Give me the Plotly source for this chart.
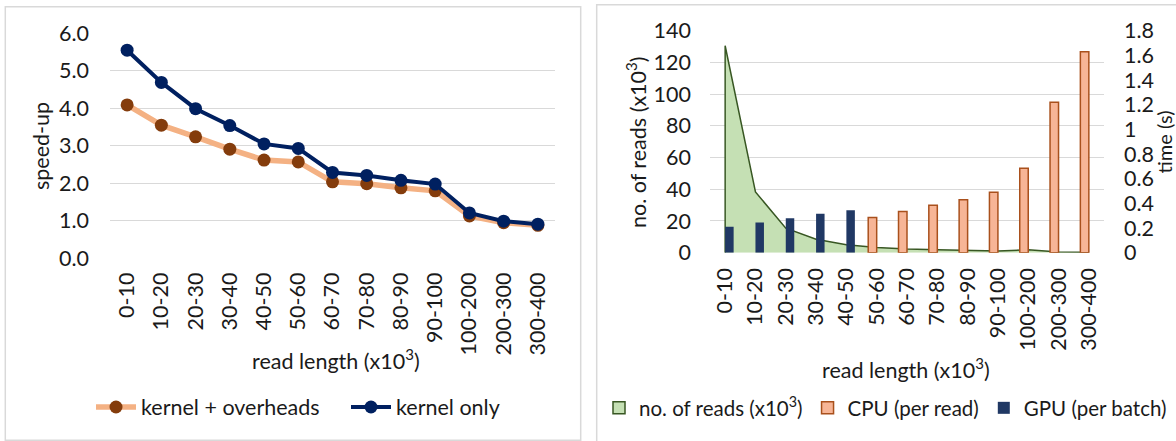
import plotly.graph_objects as go

W, H = 1176, 441

categories = ["0-10", "10-20", "20-30", "30-40", "40-50", "50-60", "60-70",
              "70-80", "80-90", "90-100", "100-200", "200-300", "300-400"]

# left chart: speed-up
kernel_overheads = [4.09, 3.55, 3.24, 2.91, 2.62, 2.57, 2.04, 1.99, 1.88, 1.80, 1.13, 0.95, 0.88]
kernel_only = [5.55, 4.69, 3.99, 3.54, 3.05, 2.93, 2.29, 2.21, 2.08, 1.98, 1.21, 0.99, 0.91]

# right chart
num_reads = [130.5, 38.3, 15.5, 8.5, 5.0, 3.3, 2.3, 1.9, 1.4, 1.1, 1.8, 0.5, 0.3]
cpu_time = [None, None, None, None, None, 0.285, 0.335, 0.385, 0.43, 0.49, 0.685, 1.22, 1.63]
gpu_time = [0.21, 0.245, 0.28, 0.315, 0.345, None, None, None, None, None, None, None, None]

speedup_ticks = [0, 1, 2, 3, 4, 5, 6]
speedup_ticktext = ["0.0", "1.0", "2.0", "3.0", "4.0", "5.0", "6.0"]
reads_ticks = [0, 20, 40, 60, 80, 100, 120, 140]
time_ticks = [0, 0.2, 0.4, 0.6, 0.8, 1.0, 1.2, 1.4, 1.6, 1.8]
time_ticktext = ["0", "0.2", "0.4", "0.6", "0.8", "1", "1.2", "1.4", "1.6", "1.8"]

FONT = "Lato, 'Open Sans', sans-serif"
TXT = "#1a1a1a"
GRID = "#D9D9D9"
FS = 21.5
FS_LEG2 = 20.5


def px(x):
    return x / W


def py(y):
    return 1 - y / H


fig = go.Figure()

fig.add_trace(go.Scatter(
    x=categories, y=kernel_overheads, name="kernel + overheads",
    mode="lines+markers", line=dict(color="#F4B183", width=5.5),
    marker=dict(color="#843C0C", size=13),
    xaxis="x", yaxis="y", legend="legend"))
fig.add_trace(go.Scatter(
    x=categories, y=kernel_only, name="kernel only",
    mode="lines+markers", line=dict(color="#002060", width=4),
    marker=dict(color="#002060", size=13),
    xaxis="x", yaxis="y", legend="legend"))

# area (closed at the first category down to zero)
fig.add_trace(go.Scatter(
    x=[categories[0]] + categories, y=[0] + num_reads,
    name="no. of reads (x10<sup>3</sup>)", mode="lines", fill="tozeroy",
    fillcolor="#C5E0B4", line=dict(color="#385723", width=1.5),
    xaxis="x2", yaxis="y3", showlegend=False))
# legend entry (square swatch) for the area series
fig.add_trace(go.Bar(
    x=categories, y=[None for _ in categories], name="no. of reads (x10<sup>3</sup>)",
    marker=dict(color="#C5E0B4", line=dict(color="#385723", width=1.5)),
    xaxis="x2", yaxis="y3", legend="legend2", hoverinfo="skip"))
fig.add_trace(go.Bar(
    x=categories, y=cpu_time, name="CPU (per read)",
    marker=dict(color="#F7B596", line=dict(color="#A9501C", width=1.5)),
    xaxis="x2", yaxis="y4", legend="legend2"))
fig.add_trace(go.Bar(
    x=categories, y=gpu_time, name="GPU (per batch)",
    marker=dict(color="#203864", line=dict(color="#203864", width=0)),
    xaxis="x2", yaxis="y4", legend="legend2"))

axis_common = dict(tickfont=dict(family=FONT, size=FS, color=TXT), showline=False,
                   zeroline=False, ticks="", automargin=False)


def title_ann(text, x, y, angle=0, size=FS):
    return dict(text=text, x=px(x), y=py(y), xref="paper", yref="paper",
                xanchor="center", yanchor="middle", textangle=angle,
                showarrow=False, font=dict(family=FONT, size=size, color=TXT))


fig.update_layout(
    width=W, height=H, margin=dict(l=0, r=0, t=0, b=0, autoexpand=False),
    paper_bgcolor="white", plot_bgcolor="white",
    font=dict(family=FONT, size=FS, color=TXT),
    barmode="group", bargap=0.44, bargroupgap=0,
    xaxis=dict(domain=[px(110), px(555)], anchor="y", type="category",
               categoryorder="array", categoryarray=categories,
               range=[-0.5, 12.5], tickangle=-90, showgrid=False,
               ticklabelstandoff=9, **axis_common),
    yaxis=dict(domain=[py(258.3), py(33.3)], anchor="x", range=[0, 6],
               tickvals=speedup_ticks, ticktext=speedup_ticktext,
               showgrid=True, gridcolor=GRID, gridwidth=1.3,
               ticklabelstandoff=20, **axis_common),
    xaxis2=dict(domain=[px(710), px(1104)], anchor="y3", type="category",
                categoryorder="array", categoryarray=categories,
                range=[-0.5, 12.5], tickangle=-90, showgrid=False,
                ticklabelstandoff=10, **axis_common),
    yaxis3=dict(domain=[py(252.7), py(30.7)], anchor="x2", range=[0, 140],
                tickvals=reads_ticks, showgrid=True, gridcolor=GRID, gridwidth=1.3,
                ticklabelstandoff=18, **axis_common),
    yaxis4=dict(overlaying="y3", anchor="x2", side="right", range=[0, 1.8],
                tickvals=time_ticks, ticktext=time_ticktext, showgrid=False,
                ticklabelstandoff=19, **axis_common),
    legend=dict(orientation="h", x=px(91), y=py(407), xanchor="left", yanchor="middle",
                font=dict(family=FONT, size=FS, color=TXT), bgcolor="rgba(0,0,0,0)",
                itemwidth=40, entrywidth=200),
    legend2=dict(orientation="h", x=px(599), y=py(408), xanchor="left", yanchor="middle",
                 font=dict(family=FONT, size=FS_LEG2, color=TXT), bgcolor="rgba(0,0,0,0)",
                 itemwidth=30),
    shapes=[
        dict(type="rect", xref="paper", yref="paper", x0=px(5.3), x1=px(580.7),
             y0=py(440.3), y1=py(6.7), line=dict(color="#D9D9D9", width=1.5)),
        dict(type="rect", xref="paper", yref="paper", x0=px(596.7), x1=px(1185),
             y0=py(450), y1=py(4.7), line=dict(color="#D9D9D9", width=1.5)),
    ],
    annotations=[
        title_ann("speed-up", 41, 146, -90),
        title_ann("read length (x10<sup>3</sup>)", 336, 359),
        title_ann("no. of reads (x10<sup>3</sup>)", 636, 142, -90),
        title_ann("time (s)", 1163.5, 142, -90, size=20),
        title_ann("read length (x10<sup>3</sup>)", 906, 368),
    ],
)

fig.write_html("out.html", config={"displayModeBar": False},
               post_script="document.body.style.margin='0';"
               "document.body.style.overflow='hidden';")
